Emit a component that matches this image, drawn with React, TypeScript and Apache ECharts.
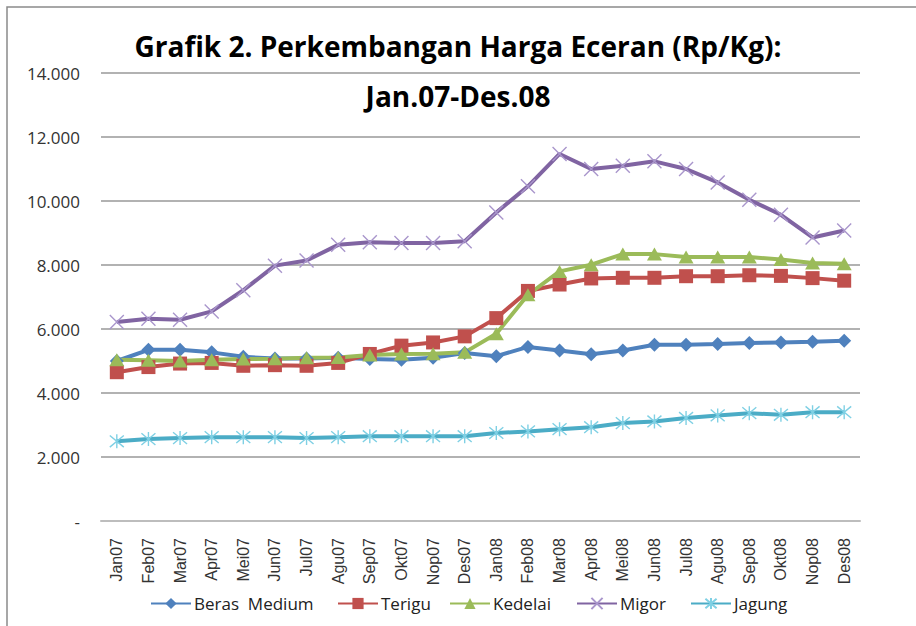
import { useEffect, useRef } from "react";
import * as echarts from "echarts";

const categories = [
  "Jan07", "Feb07", "Mar07", "Apr07", "Mei07", "Jun07", "Jul07", "Agu07", "Sep07", "Okt07", "Nop07", "Des07",
  "Jan08", "Feb08", "Mar08", "Apr08", "Mei08", "Jun08", "Jul08", "Agu08", "Sep08", "Okt08", "Nop08", "Des08",
];

const seriesNames = ["Beras  Medium", "Terigu", "Kedelai", "Migor", "Jagung"];

const berasMedium = [5000, 5350, 5350, 5270, 5130, 5080, 5080, 5100, 5060, 5040, 5100, 5250, 5150, 5440, 5330, 5210, 5330, 5510, 5510, 5530, 5560, 5580, 5600, 5630];
const terigu = [4650, 4810, 4920, 4940, 4850, 4870, 4850, 4940, 5220, 5480, 5580, 5770, 6340, 7190, 7390, 7580, 7600, 7600, 7650, 7650, 7680, 7660, 7590, 7510];
const kedelai = [5040, 5020, 5000, 5040, 5060, 5070, 5100, 5110, 5190, 5220, 5230, 5270, 5850, 7070, 7800, 8010, 8340, 8340, 8250, 8250, 8250, 8170, 8060, 8040];
const migor = [6220, 6320, 6290, 6550, 7210, 7980, 8140, 8630, 8710, 8690, 8690, 8740, 9640, 10460, 11470, 11000, 11100, 11240, 11000, 10580, 10040, 9570, 8860, 9080];
const jagung = [2490, 2560, 2590, 2620, 2620, 2620, 2590, 2620, 2650, 2650, 2650, 2650, 2750, 2800, 2870, 2930, 3060, 3110, 3220, 3300, 3370, 3320, 3400, 3400];

const yMin = 0;
const yMax = 14000;
const yInterval = 2000;

const titleText = "Grafik 2. Perkembangan Harga Eceran (Rp/Kg):\nJan.07-Des.08";

const X_PATH = "path://M0,0L10,10M10,0L0,10";
const STAR_PATH = "path://M0,0L10,10M10,0L0,10M5,-1L5,11";

const legendLefts = [150, 337, 449, 576, 690];

function fmt(v: number): string {
  if (v === 0) return "-";
  return String(v).replace(/\B(?=(\d{3})+(?!\d))/g, ".");
}

export default function App() {
  const ref = useRef<HTMLDivElement>(null);

  useEffect(() => {
    const chart = echarts.init(ref.current!, null, { renderer: "svg" });

    const lineW = 4;
    const series: any[] = [
      {
        name: seriesNames[0],
        data: berasMedium,
        color: "#4F81BD",
        symbol: "diamond",
        symbolSize: 14,
        itemStyle: { color: "#4F81BD" },
      },
      {
        name: seriesNames[1],
        data: terigu,
        color: "#C0504D",
        symbol: "rect",
        symbolSize: 14,
        itemStyle: { color: "#C0504D" },
      },
      {
        name: seriesNames[2],
        data: kedelai,
        color: "#9BBB59",
        symbol: "triangle",
        symbolSize: [15, 13],
        itemStyle: { color: "#9BBB59" },
      },
      {
        name: seriesNames[3],
        data: migor,
        color: "#8064A2",
        symbol: X_PATH,
        symbolSize: 14,
        itemStyle: { color: "none", borderColor: "#a996cc", borderWidth: 1.4 },
      },
      {
        name: seriesNames[4],
        data: jagung,
        color: "#4BACC6",
        symbol: STAR_PATH,
        symbolSize: 14,
        itemStyle: { color: "none", borderColor: "#7fd0e4", borderWidth: 1.4 },
      },
    ].map((s) => ({
      type: "line",
      showSymbol: true,
      showAllSymbol: true,
      lineStyle: { color: s.color, width: lineW },
      emphasis: { disabled: true },
      ...s,
    }));

    const legends = seriesNames.map((n, i) => ({
      data: [n],
      left: legendLefts[i],
      top: 595,
      padding: 0,
      itemWidth: 40,
      itemHeight: 14,
      itemGap: 0,
      selectedMode: false,
      textStyle: { fontFamily: "Open Sans", fontSize: 17, color: "#222", padding: [0, 0, 0, -2] },
    }));

    chart.setOption({
      animation: false,
      backgroundColor: "#ffffff",
      title: {
        text: titleText,
        left: "center",
        top: 16,
        textStyle: {
          fontFamily: "Open Sans",
          fontWeight: "bold",
          fontSize: 28,
          color: "#000",
          lineHeight: 50,
        },
      },
      legend: legends,
      grid: { left: 101, right: 56, top: 73, bottom: 105, containLabel: false, outerBoundsMode: "none" },
      xAxis: {
        type: "category",
        data: categories,
        boundaryGap: true,
        axisLine: { show: true, lineStyle: { color: "#bdbdbd", width: 2 } },
        axisTick: { show: false },
        axisLabel: {
          rotate: 90,
          interval: 0,
          margin: 17,
          fontFamily: "Liberation Sans",
          fontSize: 16,
          color: "#333",
        },
        splitLine: { show: false },
      },
      yAxis: {
        type: "value",
        min: yMin,
        max: yMax,
        interval: yInterval,
        axisLine: { show: false },
        axisTick: { show: false },
        axisLabel: {
          margin: 21,
          fontFamily: "Open Sans",
          fontSize: 17,
          color: "#333",
          formatter: (v: number) => fmt(v),
        },
        splitLine: { lineStyle: { color: "#999999", width: 1.5 } },
      },
      graphic: [
        {
          type: "rect",
          shape: { x: 7, y: 7, width: 1000, height: 1000 },
          style: { fill: "none", stroke: "#8a8a8a", lineWidth: 1.5 },
          silent: true,
        },
      ],
      series,
    });

    return () => chart.dispose();
  }, []);

  return (
    <div
      ref={ref}
      style={{ position: "fixed", left: 0, top: 0, width: 916, height: 626, background: "#fff" }}
    />
  );
}
